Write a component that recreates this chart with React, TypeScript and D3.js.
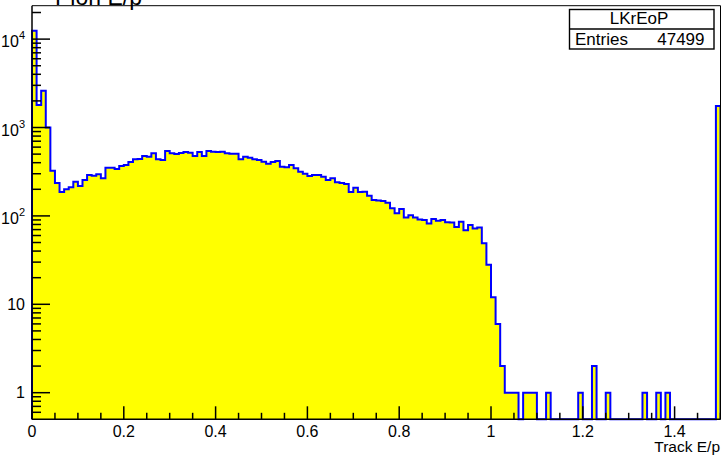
import React from "react";
import * as d3 from "d3";

const histName = "LKrEoP";
const histTitle = "Pion E/p";
const xTitle = "Track E/p";
const entries = 47499;
const xMin = 0;
const xMax = 1.5;
const yMin = 0.5;
const yMax = 23880;

const counts = [
  12400, 1800, 2600, 1000, 324, 236, 186, 200, 211, 244,
  218, 255, 290, 285, 296, 266, 351, 351, 339, 367,
  377, 407, 437, 440, 476, 468, 511, 437, 429, 542,
  511, 501, 515, 528, 519, 476, 528, 476, 542, 532,
  528, 532, 511, 505, 505, 437, 468, 455, 437, 429,
  410, 389, 407, 418, 360, 355, 377, 345, 316, 300,
  283, 290, 290, 278, 255, 266, 240, 236, 230, 186,
  208, 186, 188, 169, 151, 149, 147, 141, 122, 107,
  120, 96, 102, 96, 91, 90, 82, 92, 88, 90,
  85, 84, 75, 86, 69, 79, 72, 74, 49, 28,
  12, 6, 2, 1, 1, 1, 0, 1, 1, 1,
  0, 0, 1, 0, 0, 0, 0, 0, 0, 1,
  0, 0, 2, 0, 0, 1, 0, 0, 0, 0,
  0, 0, 0, 1, 0, 0, 1, 0, 1, 0,
  0, 0, 0, 0, 0, 0, 0, 0, 0, 1750,
];

const xMajorTicks = [0, 0.2, 0.4, 0.6, 0.8, 1, 1.2, 1.4];
const xMajorLabels = ["0", "0.2", "0.4", "0.6", "0.8", "1", "1.2", "1.4"];
const yMajorTicks = [1, 10, 100, 1000, 10000];
const yMajorBase = ["1", "10", "10", "10", "10"];
const yMajorExp = ["", "", "2", "3", "4"];

const W = 721;
const H = 457;
const FONT = "'Liberation Sans', Arial, Helvetica, sans-serif";

export default function App() {
  const left = 32;
  const right = 720.5;
  const top = 5.7;
  const bottom = 419.3;

  const x = d3.scaleLinear().domain([xMin, xMax]).range([left, right]);
  const y = d3.scaleLog().domain([yMin, yMax]).range([bottom, top]);

  const n = counts.length;
  const bw = (xMax - xMin) / n;
  const pts: [number, number][] = [[x(xMin), y(yMin)]];
  counts.forEach((c, i) => {
    const v = c > 0 ? c : yMin;
    pts.push([x(xMin + i * bw), y(v)]);
    pts.push([x(xMin + (i + 1) * bw), y(v)]);
  });
  pts.push([x(xMax), y(yMin)]);
  const line = d3.line();
  const pathD = line(pts) || "";

  const xMinor: number[] = [];
  for (let i = 0; i <= 30; i++) {
    const v = i * 0.05;
    if (Math.abs(v / 0.2 - Math.round(v / 0.2)) > 1e-6) xMinor.push(v);
  }
  const yMinor: number[] = [];
  for (let e = -1; e <= 4; e++) {
    for (let m = 2; m <= 9; m++) {
      const v = m * Math.pow(10, e);
      if (v > yMin && v < yMax) yMinor.push(v);
    }
  }

  return (
    <svg
      width={W}
      height={H}
      style={{ position: "absolute", left: 0, top: 0, background: "#fff" }}
      fontFamily={FONT}
    >
      <rect x={0} y={0} width={W} height={H} fill="#fff" />
      <text x={55} y={5} fontSize={23} fill="#000">
        {histTitle}
      </text>
      <path d={pathD + "Z"} fill="#ffff00" stroke="none" />
      <path d={pathD} fill="none" stroke="#0000ff" strokeWidth={2} strokeLinejoin="miter" />
      <line x1={left} x2={right} y1={top} y2={top} stroke="#000" strokeWidth={1} />
      <line x1={right} x2={right} y1={top} y2={bottom} stroke="#000" strokeWidth={1} />
      <line x1={left} x2={right} y1={bottom} y2={bottom} stroke="#000" strokeWidth={1.5} />
      <line x1={left} x2={left} y1={top} y2={bottom} stroke="#000" strokeWidth={1.5} />
      {xMajorTicks.map((t, i) => (
        <g key={"xm" + i}>
          <line x1={x(t)} x2={x(t)} y1={bottom} y2={bottom - 13} stroke="#000" strokeWidth={1.5} />
          <text x={x(t)} y={436.5} fontSize={16} textAnchor="middle" fill="#000">
            {xMajorLabels[i]}
          </text>
        </g>
      ))}
      {xMinor.map((t, i) => (
        <line key={"xn" + i} x1={x(t)} x2={x(t)} y1={bottom} y2={bottom - 6.5} stroke="#000" strokeWidth={1.5} />
      ))}
      {yMajorTicks.map((t, i) => (
        <g key={"ym" + i}>
          <line x1={left} x2={left + 18} y1={y(t)} y2={y(t)} stroke="#000" strokeWidth={1.5} />
          {yMajorExp[i] ? (
            <text x={25} y={y(t) + 8} fontSize={16} textAnchor="end" fill="#000">
              {yMajorBase[i]}
              <tspan fontSize={11} dy={-8}>
                {yMajorExp[i]}
              </tspan>
            </text>
          ) : (
            <text x={25} y={y(t) + 5.7} fontSize={16} textAnchor="end" fill="#000">
              {yMajorBase[i]}
            </text>
          )}
        </g>
      ))}
      {yMinor.map((t, i) => (
        <line key={"yn" + i} x1={left} x2={left + 9} y1={y(t)} y2={y(t)} stroke="#000" strokeWidth={1.5} />
      ))}
      <text x={720} y={452} fontSize={15.5} textAnchor="end" fill="#000">
        {xTitle}
      </text>
      <rect x={569.5} y={9.5} width={144.5} height={39.5} fill="#fff" stroke="#000" strokeWidth={1.4} />
      <line x1={569.5} x2={714} y1={29} y2={29} stroke="#000" strokeWidth={1.4} />
      <text x={639} y={23.5} fontSize={17} textAnchor="middle" fill="#000">
        {histName}
      </text>
      <text x={575} y={45} fontSize={17} fill="#000">
        Entries
      </text>
      <text x={704.5} y={45} fontSize={17} textAnchor="end" fill="#000">
        {String(entries)}
      </text>
    </svg>
  );
}
